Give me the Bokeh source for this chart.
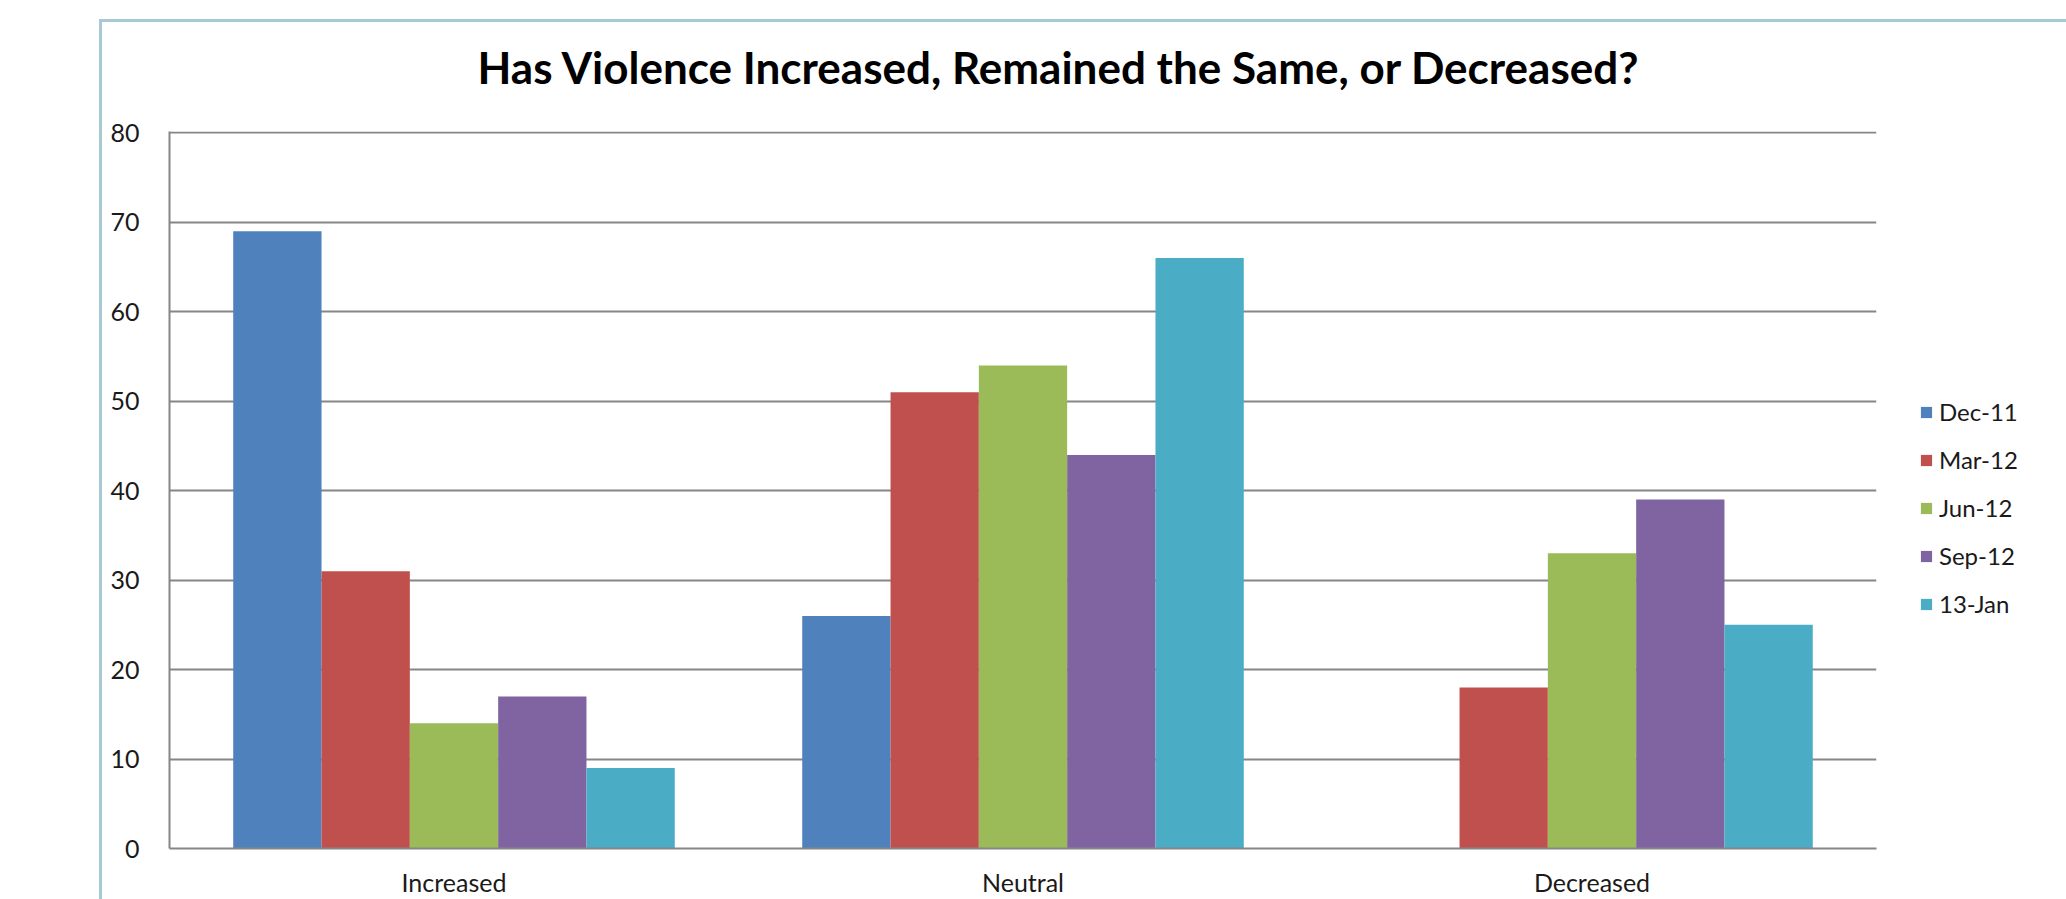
from bokeh.plotting import figure
from bokeh.models import (FactorRange, Range1d, ColumnDataSource, Legend, LegendItem,
                          Title, SingleIntervalTicker)
from bokeh.transform import dodge
from bokeh.embed import file_html
from bokeh.resources import INLINE

# Survey answers per period
categories = ["Increased", "Neutral", "Decreased"]
series_names = ["Dec-11", "Mar-12", "Jun-12", "Sep-12", "13-Jan"]
dec_11 = [69, 26, 0]
mar_12 = [31, 51, 18]
jun_12 = [14, 54, 33]
sep_12 = [17, 44, 39]
jan_13 = [9, 66, 25]
colors = ["#4F81BD", "#C0504D", "#9BBB59", "#8064A2", "#4BACC6"]

series_values = [dec_11, mar_12, jun_12, sep_12, jan_13]
data = {"cat": categories}
for name, vals in zip(series_names, series_values):
    data[name] = vals
source = ColumnDataSource(data)

FONT = "Lato"
GRID = "#868686"
TEXT = "#1a1a1a"

p = figure(frame_width=1707, frame_height=717, output_backend="svg", toolbar_location=None,
           x_range=FactorRange(factors=categories), y_range=Range1d(0, 80.15),
           min_border_left=67, min_border_right=168, min_border_top=109,
           min_border_bottom=50, outline_line_color=None,
           background_fill_color="white", border_fill_color="white")
p.margin = (19, 0, 0, 99)
p.styles = {"border-top": "3px solid #A7CAD2", "border-left": "3px solid #A7CAD2",
            "border-right": "3px solid #A7CAD2", "box-sizing": "content-box"}

bar_w = 0.1552
renderers = []
for i, name in enumerate(series_names):
    off = (i - 2) * bar_w
    r = p.vbar(x=dodge("cat", off, range=p.x_range), top=name, width=bar_w,
               source=source, fill_color=colors[i], line_color=None)
    renderers.append(r)

# axes
p.yaxis.ticker = SingleIntervalTicker(interval=10)
p.yaxis.axis_line_color = GRID
p.yaxis.axis_line_width = 2
p.yaxis.major_tick_line_color = None
p.yaxis.minor_tick_line_color = None
p.yaxis.major_label_standoff = 24
p.yaxis.major_label_text_font = FONT
p.yaxis.major_label_text_font_size = "25px"
p.yaxis.major_label_text_color = TEXT

p.xaxis.axis_line_color = GRID
p.xaxis.axis_line_width = 2
p.xaxis.major_tick_line_color = None
p.xaxis.minor_tick_line_color = None
p.xaxis.major_label_standoff = 12
p.xaxis.major_label_text_font = FONT
p.xaxis.major_label_text_font_size = "25px"
p.xaxis.major_label_text_color = TEXT

p.xgrid.grid_line_color = None
p.ygrid.grid_line_color = GRID
p.ygrid.grid_line_width = 2

# chart title, with extra room below it
p.add_layout(Title(text="Has Violence Increased, Remained the Same, or Decreased?",
                   align="left", offset=308, vertical_align="top", standoff=32,
                   padding=dict(left=0, right=0, top=0, bottom=21),
                   text_font=FONT, text_font_style="bold", text_font_size="44px",
                   text_color="black"), "above")

legend = Legend(items=[LegendItem(label=n, renderers=[r]) for n, r in zip(series_names, renderers)],
                location=(43, 230), glyph_width=14, glyph_height=14,
                label_standoff=6, spacing=19, padding=0, margin=0,
                border_line_color=None, background_fill_alpha=0,
                label_text_font=FONT, label_text_font_size="24px",
                label_text_color=TEXT)
p.add_layout(legend, "right")

open("out.html", "w").write(file_html(p, INLINE))
